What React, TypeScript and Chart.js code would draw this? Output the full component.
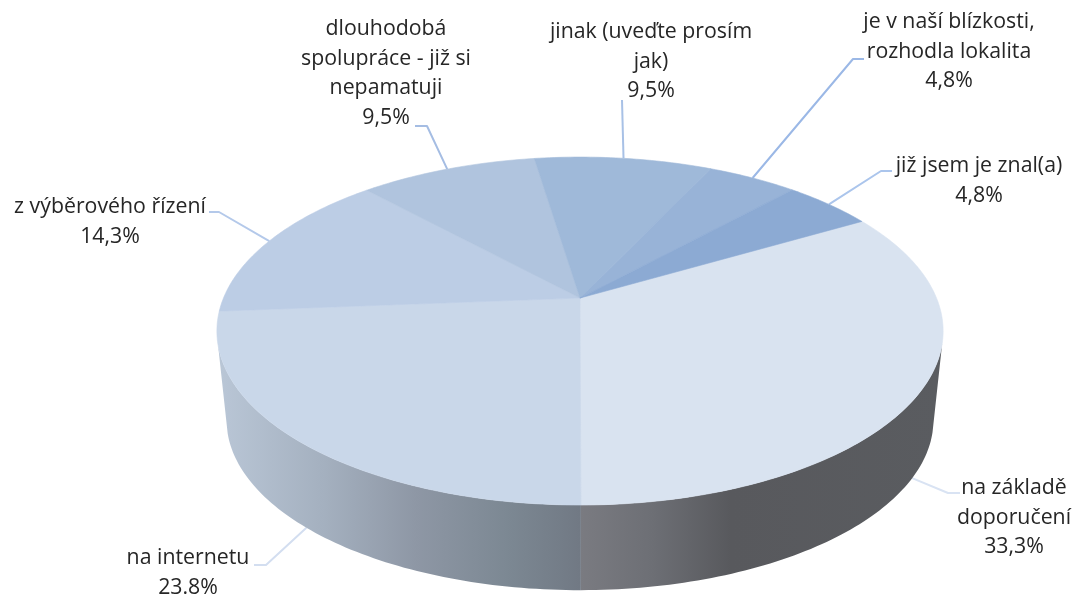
import React, { useEffect, useRef } from "react";
import { Chart, registerables } from "chart.js";

Chart.register(...registerables);

const categories = [
  ["na základě", "doporučení"],
  ["na internetu"],
  ["z výběrového řízení"],
  ["dlouhodobá", "spolupráce - již si", "nepamatuji"],
  ["jinak (uveďte prosím", "jak)"],
  ["je v naší blízkosti,", "rozhodla lokalita"],
  ["již jsem je znal(a)"],
];
const shares = [33.3, 23.8, 14.3, 9.5, 9.5, 4.8, 4.8];
const shareLabels = ["33,3%", "23.8%", "14,3%", "9,5%", "9,5%", "4,8%", "4,8%"];
const faceColors = ["#d9e3f0", "#c9d7e9", "#bccde5", "#b0c4de", "#9fb9d9", "#98b3d7", "#8caad3"];
const leaderColors = ["#d9e3f3", "#d3def0", "#b4c9ea", "#a5bde3", "#a8c1e6", "#9bb8e6", "#abc5ec"];

// layout only
const labelCentres = [[1014, 488], [188, 558], [110, 207], [386, 29], [651, 32], [949, 22], [979, 166]];
const labelLineHeight = 29.6;
const leaderElbows = [
  [[948, 493], [960, 493]],
  [[266, 565], [254, 565]],
  [[219, 212], [209, 212]],
  [[427, 126], [415, 126]],
  [[622, 100]],
  [[853, 59], [864, 59]],
  [[881, 171], [892, 171]],
];

const K = 0.19;
const TOP = { cx: 580, cy: 298, rx: 356.5, ry: 167.7 };
const BOTTOM = { cx: 580, cy: 387.7, rx: 347, ry: 164 };
const WALL_V = -0.25;

function project(a: number, ring: typeof TOP) {
  const u = Math.cos(a);
  const v = -Math.sin(a);
  const w = 1 + K * v;
  return [ring.cx + (ring.rx * u) / w, ring.cy - (ring.ry * v) / w];
}

function samples(a0: number, a1: number) {
  const n = Math.max(2, Math.ceil(((a1 - a0) * 180) / Math.PI));
  const out: number[] = [];
  for (let i = 0; i <= n; i++) out.push(a0 + ((a1 - a0) * i) / n);
  return out;
}

function wallGradient(ctx: CanvasRenderingContext2D, right: boolean) {
  const g = right
    ? ctx.createLinearGradient(580, 0, 940, 0)
    : ctx.createLinearGradient(215, 0, 580, 0);
  if (right) {
    g.addColorStop(0, "#7a7b81");
    g.addColorStop(0.2, "#6d6f75");
    g.addColorStop(0.42, "#58595d");
    g.addColorStop(1, "#5a5c60");
  } else {
    g.addColorStop(0, "#bac7d7");
    g.addColorStop(0.3, "#a4b0bf");
    g.addColorStop(0.55, "#8e97a5");
    g.addColorStop(0.8, "#7c8893");
    g.addColorStop(1, "#717984");
  }
  return g;
}

const pie3d = {
  id: "pie3d",
  beforeDatasetsDraw(chart: any) {
    const ctx: CanvasRenderingContext2D = chart.ctx;
    const arcs = chart.getDatasetMeta(0).data;
    ctx.save();
    ctx.lineJoin = "round";

    // leader lines sit under the pie
    arcs.forEach((arc: any, i: number) => {
      const mid = (arc.startAngle + arc.endAngle) / 2;
      const front = -Math.sin(mid) < WALL_V;
      const p = project(mid, front ? BOTTOM : TOP);
      ctx.beginPath();
      ctx.moveTo(p[0], p[1]);
      leaderElbows[i].forEach((q) => ctx.lineTo(q[0], q[1]));
      ctx.strokeStyle = leaderColors[i];
      ctx.lineWidth = 2;
      ctx.stroke();
    });

    // side wall
    arcs.forEach((arc: any) => {
      const pts = samples(arc.startAngle, arc.endAngle).filter((a) => -Math.sin(a) <= WALL_V);
      if (pts.length < 2) return;
      ctx.beginPath();
      pts.forEach((a, j) => {
        const p = project(a, TOP);
        if (j) ctx.lineTo(p[0], p[1]);
        else ctx.moveTo(p[0], p[1]);
      });
      [...pts].reverse().forEach((a) => {
        const p = project(a, BOTTOM);
        ctx.lineTo(p[0], p[1]);
      });
      ctx.closePath();
      ctx.fillStyle = wallGradient(ctx, Math.cos((arc.startAngle + arc.endAngle) / 2) > 0);
      ctx.fill();
    });

    // top faces
    arcs.forEach((arc: any, i: number) => {
      ctx.beginPath();
      ctx.moveTo(TOP.cx, TOP.cy);
      samples(arc.startAngle, arc.endAngle).forEach((a) => {
        const p = project(a, TOP);
        ctx.lineTo(p[0], p[1]);
      });
      ctx.closePath();
      ctx.fillStyle = faceColors[i];
      ctx.strokeStyle = faceColors[i];
      ctx.lineWidth = 0.6;
      ctx.fill();
      ctx.stroke();
    });

    // data labels
    ctx.font = '21.3px "Open Sans"';
    ctx.fillStyle = "#262626";
    ctx.textAlign = "center";
    ctx.textBaseline = "middle";
    categories.forEach((lines, i) => {
      [...lines, shareLabels[i]].forEach((t, j) => {
        ctx.fillText(t, labelCentres[i][0], labelCentres[i][1] + j * labelLineHeight);
      });
    });
    ctx.restore();
    return false;
  },
};

export default function App() {
  const ref = useRef<HTMLCanvasElement>(null);
  useEffect(() => {
    const chart = new Chart(ref.current!, {
      type: "pie",
      data: {
        labels: categories.map((c) => c.join(" ")),
        datasets: [{ data: shares, backgroundColor: faceColors, borderWidth: 0 }],
      },
      options: {
        animation: false,
        responsive: false,
        rotation: 60,
        plugins: { legend: { display: false }, tooltip: { enabled: false }, title: { display: false } },
      },
      plugins: [pie3d],
    } as any);
    return () => chart.destroy();
  }, []);
  return (
    <div style={{ position: "absolute", left: 0, top: 0, width: 1075, height: 595 }}>
      <canvas ref={ref} width={1075} height={595} style={{ display: "block" }} />
    </div>
  );
}
